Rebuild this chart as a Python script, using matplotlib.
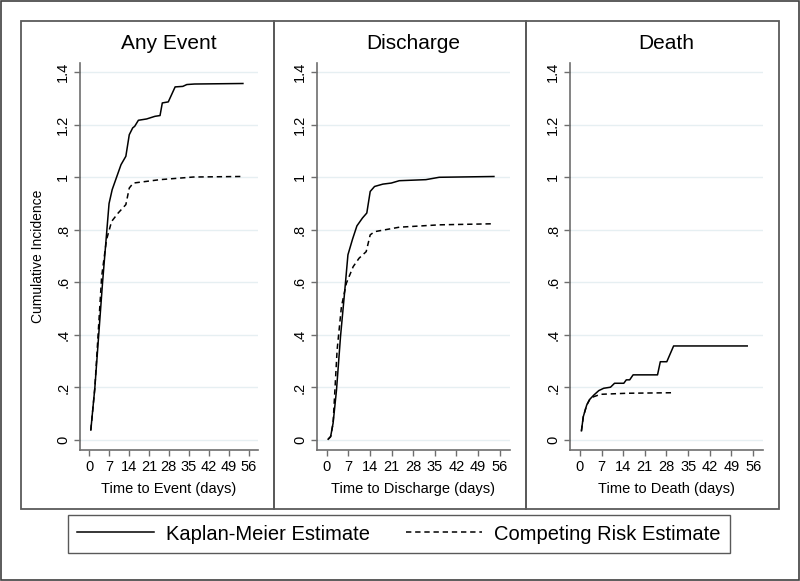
import matplotlib.pyplot as plt
from matplotlib.patches import Rectangle
from matplotlib.lines import Line2D

plt.rcParams['font.family'] = ['Liberation Sans', 'DejaVu Sans']

# Any Event
any_km_t = [0.6, 2.0, 4.7, 7.0, 8.1, 11.2, 12.9, 14.1, 15.3, 16.0, 17.3, 20.2, 23.1, 24.9,
            25.7, 27.8, 30.2, 32.9, 34.3, 37.0, 54.0]
any_km_y = [0.038, 0.197, 0.597, 0.90, 0.953, 1.048, 1.08, 1.162, 1.188, 1.194, 1.217, 1.222,
            1.232, 1.235, 1.283, 1.287, 1.344, 1.346, 1.353, 1.355, 1.357]
any_cr_t = [0.6, 2.0, 4.4, 6.1, 7.9, 10.2, 12.9, 14.1, 15.5, 24.9, 36.6, 53.1]
any_cr_y = [0.038, 0.197, 0.622, 0.762, 0.832, 0.864, 0.896, 0.959, 0.978, 0.991, 1.001, 1.003]

# Discharge
dis_km_t = [0.5, 1.3, 2.1, 3.2, 4.5, 5.9, 6.9, 8.4, 9.8, 11.6, 13.0, 14.1, 15.5, 18.2, 20.9,
            23.5, 32.1, 36.4, 54.1]
dis_km_y = [0.003, 0.013, 0.064, 0.19, 0.394, 0.572, 0.705, 0.765, 0.815, 0.845, 0.864, 0.946,
            0.965, 0.974, 0.978, 0.987, 0.991, 1.0, 1.003]
dis_cr_t = [0.5, 1.3, 2.1, 3.4, 4.8, 6.4, 8.6, 10.5, 12.8, 14.1, 15.5, 23.5, 36.4, 53.5]
dis_cr_y = [0.003, 0.013, 0.064, 0.343, 0.508, 0.597, 0.66, 0.692, 0.717, 0.781, 0.793, 0.810,
            0.819, 0.823]

# Death
dth_km_t = [0.5, 1.1, 2.2, 3.2, 4.5, 6.1, 7.7, 9.9, 11.2, 14.2, 15.0, 16.1, 17.2, 25.1, 26.0,
            28.1, 30.3, 54.1]
dth_km_y = [0.035, 0.089, 0.133, 0.155, 0.171, 0.188, 0.197, 0.201, 0.216, 0.216, 0.229, 0.229,
            0.248, 0.248, 0.298, 0.298, 0.358, 0.358]
dth_cr_t = [0.5, 1.1, 2.2, 3.2, 4.5, 6.7, 15.3, 30.3]
dth_cr_y = [0.035, 0.089, 0.133, 0.155, 0.165, 0.174, 0.178, 0.180]

titles = ["Any Event", "Discharge", "Death"]
xlabels = ["Time to Event (days)", "Time to Discharge (days)", "Time to Death (days)"]
x_ticks = [0, 7, 14, 21, 28, 35, 42, 49, 56]
y_ticks = [0, 0.2, 0.4, 0.6, 0.8, 1.0, 1.2, 1.4]
y_ticklabels = ["0", ".2", ".4", ".6", ".8", "1", "1.2", "1.4"]

panels = [
    (any_km_t, any_km_y, any_cr_t, any_cr_y),
    (dis_km_t, dis_km_y, dis_cr_t, dis_cr_y),
    (dth_km_t, dth_km_y, dth_cr_t, dth_cr_y),
]

W, H = 800, 581
fig = plt.figure(figsize=(8, 5.81), dpi=100)

# outer frame and panel boxes (pixel coords from the top-left)
def px_rect(x0, y0, x1, y1, **kw):
    fig.patches.append(Rectangle((x0 / W, 1 - y1 / H), (x1 - x0) / W, (y1 - y0) / H,
                                 transform=fig.transFigure, fill=False, **kw))

px_rect(1, 1, 799, 580, edgecolor='#404040', linewidth=1.2)
for x0, x1 in [(21, 274), (274, 526), (526, 779)]:
    px_rect(x0, 21, x1, 509, edgecolor='#5a5a5a', linewidth=1.3)

axes_px = [(80, 258), (316.7, 510), (570, 763.3)]
grey = '#6e6e6e'

for i, (km_t, km_y, cr_t, cr_y) in enumerate(panels):
    x0, x1 = axes_px[i]
    ax = fig.add_axes([x0 / W, 1 - 450 / H, (x1 - x0) / W, 387 / H])
    ax.plot(km_t, km_y, color='black', linewidth=1.1, zorder=3)
    ax.plot(cr_t, cr_y, color='black', linewidth=1.1, dashes=(3.5, 2.5), zorder=2)
    ax.set_xlim(-3.2, 59.3)
    ax.set_ylim(-0.038, 1.435)
    ax.set_xticks(x_ticks)
    ax.set_yticks(y_ticks)
    ax.set_yticklabels(y_ticklabels, rotation=90, va='center')
    ax.tick_params(labelsize=10.5, length=4, width=1, color=grey, pad=3)
    for s in ['top', 'right']:
        ax.spines[s].set_visible(False)
    for s in ['left', 'bottom']:
        ax.spines[s].set_color(grey)
        ax.spines[s].set_linewidth(1.2)
    ax.grid(axis='y', color='#e6eff2', linewidth=1)
    ax.set_axisbelow(True)
    ax.set_title(titles[i], fontsize=15, pad=10)
    ax.set_xlabel(xlabels[i], fontsize=10.5, labelpad=6)
    if i == 0:
        ax.set_ylabel("Cumulative Incidence", fontsize=10, labelpad=8)

handles = [Line2D([], [], color='black', linewidth=1.1),
           Line2D([], [], color='black', linewidth=1.1, dashes=(3.5, 2.5))]
leg = fig.legend(handles, ["Kaplan-Meier Estimate", "Competing Risk Estimate"],
                 loc='center', bbox_to_anchor=(399 / W, 1 - 534 / H), ncol=2,
                 fontsize=14.5, frameon=True, fancybox=False, handlelength=3.8,
                 columnspacing=1.8, borderpad=0.45, handletextpad=0.6)
leg.get_frame().set_edgecolor('#303030')
leg.get_frame().set_linewidth(1.0)

plt.savefig("out.png", dpi=100)
